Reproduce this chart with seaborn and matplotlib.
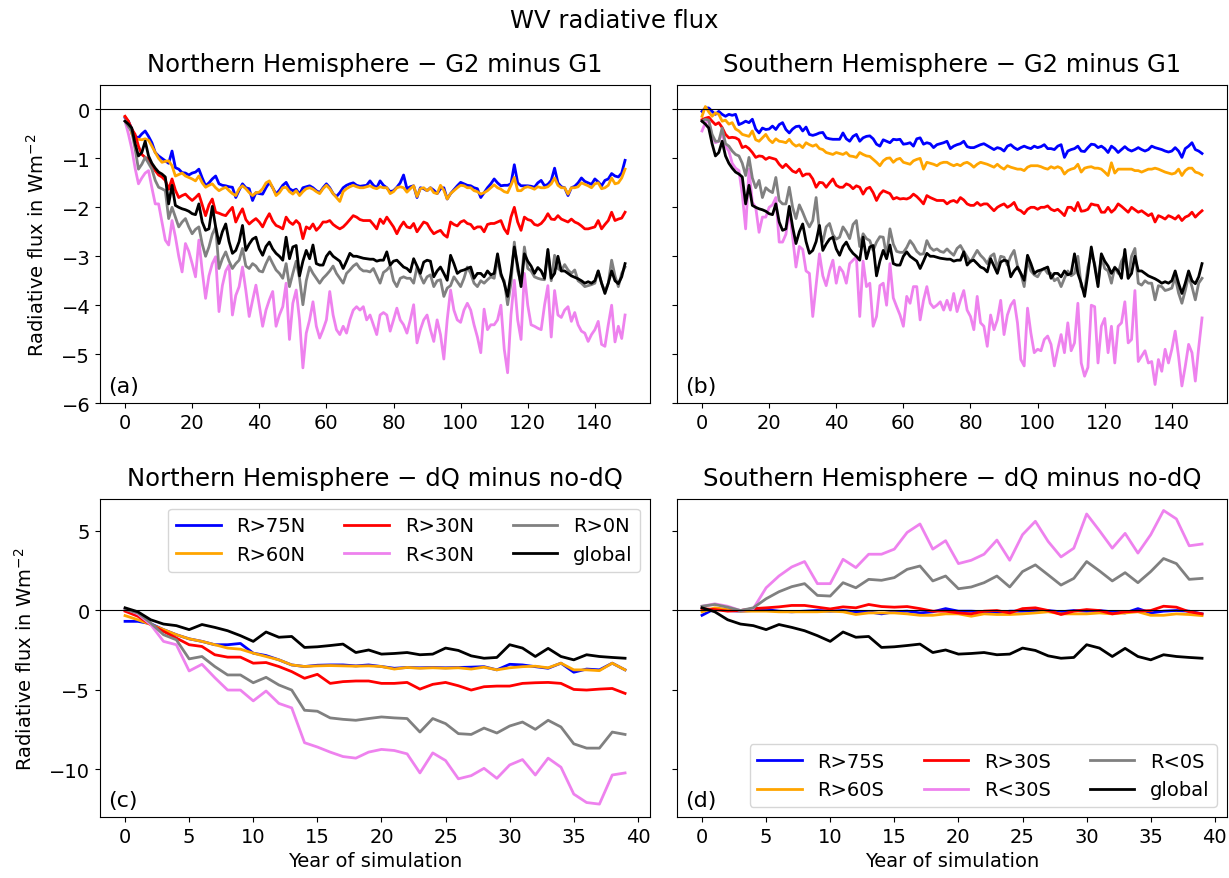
import numpy as np
import matplotlib
matplotlib.use("Agg")
import matplotlib.pyplot as plt
import seaborn as sns

# ---------------------------------------------------------------- data
years_g = np.arange(150)   # G2 minus G1 runs
years_dq = np.arange(40)   # dQ minus no-dQ runs

colors = ["blue", "orange", "red", "violet", "grey", "black"]
labels_n = ["R>75N", "R>60N", "R>30N", "R<30N", "R>0N", "global"]
labels_s = ["R>75S", "R>60S", "R>30S", "R<30S", "R<0S", "global"]

# global mean, G2 minus G1 (same curve in both hemispheres)
global_g = [
    -0.24, -0.30, -0.38, -0.70, -0.95, -0.88, -0.65, -0.95, -1.10, -1.20,
    -1.28, -1.32, -1.38, -1.93, -1.55, -1.96, -2.00, -2.03, -2.05, -2.08,
    -2.13, -2.15, -1.93, -2.30, -2.47, -2.44, -1.98, -2.40, -2.74, -2.50,
    -2.34, -2.70, -2.94, -2.88, -2.70, -2.37, -2.88, -2.75, -2.65, -2.61,
    -2.85, -2.98, -2.80, -2.71, -2.85, -2.94, -3.00, -3.08, -2.61, -3.05,
    -2.81, -2.78, -3.40, -3.10, -2.88, -3.05, -2.77, -3.15, -3.18, -3.18,
    -3.00, -2.91, -3.00, -3.05, -3.10, -3.25, -3.10, -2.94, -3.00, -3.00,
    -3.02, -3.04, -3.05, -3.06, -3.06, -3.10, -3.08, -3.08, -2.91, -3.18,
    -3.10, -3.08, -3.15, -3.22, -3.25, -3.32, -3.05, -3.20, -3.35, -3.12,
    -3.08, -3.10, -3.42, -3.30, -3.22, -3.35, -3.49, -2.98, -3.15, -3.35,
    -3.30, -3.28, -3.25, -3.22, -3.45, -3.35, -3.35, -3.42, -3.30, -3.38,
    -3.35, -2.95, -3.35, -3.55, -3.82, -3.35, -2.81, -3.20, -3.62, -2.95,
    -3.10, -3.20, -3.35, -3.23, -3.30, -3.45, -2.86, -3.45, -3.35, -3.00,
    -3.30, -3.30, -3.35, -3.40, -3.43, -3.46, -3.50, -3.55, -3.52, -3.55,
    -3.50, -3.30, -3.55, -3.76, -3.55, -3.30, -3.50, -3.56, -3.42, -3.15,
]

# Northern Hemisphere, G2 minus G1
r75n_g = [
    -0.17, -0.24, -0.40, -0.55, -0.58, -0.50, -0.44, -0.55, -0.68, -0.88,
    -0.95, -1.00, -1.05, -1.10, -0.85, -1.19, -1.22, -1.29, -1.30, -1.34,
    -1.30, -1.28, -1.22, -1.40, -1.56, -1.50, -1.42, -1.36, -1.52, -1.55,
    -1.56, -1.58, -1.59, -1.80, -1.65, -1.52, -1.60, -1.62, -1.86, -1.70,
    -1.72, -1.73, -1.60, -1.49, -1.60, -1.73, -1.65, -1.55, -1.49, -1.62,
    -1.66, -1.63, -1.73, -1.60, -1.58, -1.56, -1.60, -1.66, -1.70, -1.60,
    -1.52, -1.60, -1.72, -1.78, -1.70, -1.60, -1.55, -1.52, -1.50, -1.55,
    -1.57, -1.56, -1.55, -1.46, -1.55, -1.60, -1.46, -1.55, -1.60, -1.68,
    -1.66, -1.59, -1.50, -1.34, -1.62, -1.58, -1.56, -1.80, -1.60, -1.62,
    -1.66, -1.60, -1.65, -1.72, -1.62, -1.60, -1.83, -1.72, -1.64, -1.56,
    -1.49, -1.52, -1.55, -1.56, -1.60, -1.62, -1.80, -1.70, -1.60, -1.52,
    -1.42, -1.50, -1.56, -1.55, -1.55, -1.52, -1.13, -1.50, -1.56, -1.56,
    -1.56, -1.57, -1.59, -1.50, -1.45, -1.56, -1.53, -1.45, -1.20, -1.50,
    -1.58, -1.60, -1.76, -1.60, -1.57, -1.50, -1.40, -1.47, -1.50, -1.53,
    -1.42, -1.48, -1.56, -1.45, -1.42, -1.31, -1.36, -1.38, -1.30, -1.04,
]
r60n_g = [
    -0.15, -0.25, -0.50, -0.60, -0.61, -0.62, -0.60, -0.63, -0.75, -0.88,
    -1.00, -1.08, -1.06, -1.05, -1.15, -1.36, -1.33, -1.30, -1.36, -1.39,
    -1.42, -1.46, -1.36, -1.50, -1.59, -1.55, -1.52, -1.60, -1.66, -1.62,
    -1.59, -1.66, -1.72, -1.76, -1.62, -1.56, -1.62, -1.70, -1.76, -1.70,
    -1.69, -1.62, -1.50, -1.46, -1.60, -1.76, -1.70, -1.60, -1.59, -1.68,
    -1.73, -1.66, -1.76, -1.68, -1.62, -1.60, -1.63, -1.68, -1.72, -1.62,
    -1.55, -1.62, -1.72, -1.80, -1.88, -1.68, -1.62, -1.58, -1.55, -1.58,
    -1.60, -1.60, -1.58, -1.56, -1.60, -1.62, -1.58, -1.60, -1.60, -1.72,
    -1.68, -1.60, -1.58, -1.60, -1.69, -1.62, -1.56, -1.78, -1.62, -1.60,
    -1.66, -1.60, -1.70, -1.72, -1.55, -1.65, -1.83, -1.72, -1.66, -1.60,
    -1.55, -1.56, -1.60, -1.60, -1.66, -1.68, -1.73, -1.70, -1.66, -1.60,
    -1.54, -1.60, -1.63, -1.68, -1.70, -1.55, -1.39, -1.66, -1.66, -1.60,
    -1.58, -1.60, -1.63, -1.58, -1.60, -1.60, -1.58, -1.52, -1.40, -1.55,
    -1.60, -1.60, -1.73, -1.60, -1.60, -1.58, -1.50, -1.53, -1.56, -1.60,
    -1.52, -1.50, -1.62, -1.60, -1.55, -1.40, -1.52, -1.50, -1.40, -1.22,
]
r30n_g = [
    -0.14, -0.24, -0.40, -0.51, -0.75, -0.92, -0.98, -1.02, -1.15, -1.25,
    -1.34, -1.38, -1.45, -1.63, -1.42, -1.65, -1.80, -1.76, -1.73, -1.80,
    -1.86, -1.80, -1.73, -1.95, -2.17, -1.95, -1.83, -2.10, -2.12, -2.15,
    -2.17, -2.08, -2.00, -2.30, -2.15, -2.03, -2.25, -2.34, -2.28, -2.23,
    -2.30, -2.40, -2.25, -2.13, -2.28, -2.37, -2.40, -2.44, -2.20, -2.30,
    -2.35, -2.27, -2.34, -2.64, -2.40, -2.44, -2.34, -2.47, -2.40, -2.30,
    -2.30, -2.27, -2.35, -2.40, -2.44, -2.40, -2.33, -2.25, -2.17, -2.20,
    -2.25, -2.27, -2.27, -2.27, -2.35, -2.44, -2.24, -2.33, -2.20, -2.30,
    -2.40, -2.54, -2.40, -2.30, -2.40, -2.42, -2.33, -2.50, -2.40, -2.30,
    -2.33, -2.45, -2.54, -2.50, -2.47, -2.56, -2.61, -2.30, -2.35, -2.38,
    -2.30, -2.27, -2.33, -2.35, -2.44, -2.40, -2.40, -2.50, -2.35, -2.33,
    -2.33, -2.30, -2.27, -2.44, -2.54, -2.20, -2.00, -2.30, -2.47, -2.20,
    -2.25, -2.27, -2.35, -2.37, -2.33, -2.25, -2.13, -2.24, -2.25, -2.17,
    -2.24, -2.27, -2.30, -2.24, -2.30, -2.33, -2.38, -2.44, -2.44, -2.42,
    -2.40, -2.27, -2.44, -2.35, -2.27, -2.10, -2.27, -2.24, -2.22, -2.10,
]
rlt30n_g = [
    -0.24, -0.50, -0.80, -1.20, -1.52, -1.40, -1.30, -1.25, -1.60, -1.93,
    -1.93, -2.30, -2.67, -2.77, -2.27, -2.60, -3.00, -3.32, -2.74, -2.90,
    -3.15, -3.42, -2.67, -3.30, -3.86, -3.40, -3.15, -3.01, -4.13, -3.60,
    -3.30, -3.18, -4.20, -3.80, -3.62, -3.22, -3.70, -4.23, -3.90, -3.59,
    -4.00, -4.43, -4.10, -3.89, -3.72, -4.43, -4.20, -4.03, -3.55, -4.70,
    -3.96, -3.69, -4.30, -5.28, -4.57, -4.30, -3.93, -4.43, -4.67, -4.50,
    -4.30, -3.72, -4.20, -4.50, -4.60, -4.43, -4.57, -4.30, -4.10, -4.03,
    -4.10, -4.03, -4.30, -4.20, -4.40, -4.60, -4.20, -4.15, -4.20, -4.53,
    -4.30, -4.06, -4.30, -4.40, -4.57, -4.30, -3.99, -4.77, -4.50, -4.30,
    -4.20, -4.50, -4.74, -4.30, -4.60, -5.10, -4.30, -3.69, -4.10, -4.30,
    -4.35, -4.10, -3.96, -4.10, -4.40, -4.65, -4.97, -4.08, -4.50, -4.40,
    -4.40, -4.30, -4.00, -4.90, -5.38, -4.20, -3.49, -4.30, -4.70, -3.35,
    -4.00, -4.40, -4.43, -4.47, -4.50, -4.00, -3.60, -4.65, -3.70, -4.20,
    -4.25, -4.10, -4.03, -4.33, -4.15, -4.40, -4.53, -4.57, -4.74, -4.60,
    -4.50, -4.33, -4.80, -4.84, -4.40, -4.00, -4.75, -4.43, -4.68, -4.20,
]
r0n_g = [
    -0.24, -0.35, -0.45, -0.80, -1.22, -1.12, -0.98, -1.10, -1.22, -1.45,
    -1.59, -1.62, -1.66, -2.23, -2.00, -2.20, -2.40, -2.30, -2.23, -2.40,
    -2.54, -2.45, -2.40, -2.75, -3.00, -2.81, -2.55, -2.40, -3.25, -3.05,
    -2.91, -3.10, -3.25, -3.15, -3.08, -2.84, -3.20, -3.25, -3.15, -3.20,
    -3.30, -3.32, -3.15, -3.01, -3.15, -3.28, -3.35, -3.45, -3.15, -3.62,
    -3.35, -3.10, -3.45, -3.99, -3.50, -3.22, -3.35, -3.45, -3.55, -3.45,
    -3.38, -3.30, -3.20, -3.35, -3.45, -3.55, -3.35, -3.28, -3.20, -3.15,
    -3.25, -3.30, -3.30, -3.32, -3.25, -3.40, -3.55, -3.33, -3.28, -3.20,
    -3.50, -3.62, -3.45, -3.42, -3.45, -3.45, -3.55, -3.22, -3.40, -3.55,
    -3.42, -3.38, -3.62, -3.50, -3.48, -3.82, -3.65, -3.60, -3.42, -3.52,
    -3.62, -3.45, -3.22, -3.35, -3.55, -3.62, -3.50, -3.55, -3.48, -3.42,
    -3.45, -3.05, -3.40, -3.50, -3.99, -3.55, -2.71, -3.30, -3.55, -2.81,
    -3.25, -3.30, -3.42, -3.45, -3.47, -3.48, -2.91, -3.50, -2.98, -3.25,
    -3.30, -3.17, -3.28, -3.35, -3.28, -3.50, -3.55, -3.62, -3.60, -3.58,
    -3.55, -3.30, -3.55, -3.72, -3.55, -3.08, -3.40, -3.62, -3.35, -3.22,
]

# Southern Hemisphere, G2 minus G1
r75s_g = [
    -0.04, 0.03, 0.03, -0.04, -0.10, -0.04, -0.10, -0.14, -0.10, -0.12,
    -0.10, -0.31, -0.28, -0.24, -0.27, -0.20, -0.40, -0.48, -0.38, -0.41,
    -0.40, -0.34, -0.41, -0.31, -0.27, -0.41, -0.48, -0.40, -0.35, -0.34,
    -0.44, -0.36, -0.51, -0.53, -0.51, -0.48, -0.47, -0.58, -0.60, -0.61,
    -0.61, -0.61, -0.48, -0.60, -0.65, -0.55, -0.51, -0.65, -0.58, -0.55,
    -0.54, -0.60, -0.71, -0.75, -0.62, -0.65, -0.68, -0.61, -0.62, -0.61,
    -0.71, -0.70, -0.68, -0.75, -0.60, -0.58, -0.71, -0.68, -0.70, -0.78,
    -0.72, -0.70, -0.68, -0.65, -0.80, -0.75, -0.72, -0.70, -0.65, -0.76,
    -0.78, -0.78, -0.75, -0.72, -0.70, -0.74, -0.78, -0.82, -0.78, -0.80,
    -0.85, -0.75, -0.72, -0.78, -0.82, -0.78, -0.75, -0.78, -0.80, -0.75,
    -0.78, -0.76, -0.72, -0.80, -0.80, -0.82, -0.75, -0.72, -0.98, -0.85,
    -0.82, -0.80, -0.75, -0.85, -0.86, -0.78, -0.71, -0.72, -0.78, -0.75,
    -0.80, -0.88, -0.75, -0.80, -0.88, -0.82, -0.76, -0.82, -0.85, -0.82,
    -0.78, -0.82, -0.85, -0.82, -0.75, -0.78, -0.80, -0.82, -0.85, -0.87,
    -0.85, -0.78, -0.85, -0.98, -0.80, -0.75, -0.68, -0.82, -0.85, -0.90,
]
r60s_g = [
    -0.14, 0.06, -0.05, -0.14, -0.07, -0.10, -0.24, -0.22, -0.30, -0.27,
    -0.40, -0.44, -0.51, -0.53, -0.55, -0.44, -0.62, -0.65, -0.58, -0.51,
    -0.62, -0.68, -0.60, -0.65, -0.66, -0.68, -0.61, -0.70, -0.75, -0.72,
    -0.78, -0.68, -0.72, -0.75, -0.72, -0.80, -0.82, -0.88, -0.90, -0.92,
    -0.88, -0.90, -0.92, -0.88, -0.95, -0.96, -0.98, -0.88, -0.92, -0.95,
    -0.96, -1.02, -1.08, -1.15, -1.05, -1.00, -0.99, -1.08, -1.02, -1.00,
    -1.08, -1.10, -1.12, -1.05, -1.02, -1.00, -1.22, -1.08, -1.10, -1.12,
    -1.15, -1.10, -1.08, -1.08, -1.12, -1.15, -1.12, -1.15, -1.10, -1.08,
    -1.12, -1.18, -1.12, -1.08, -1.10, -1.12, -1.15, -1.18, -1.12, -1.18,
    -1.22, -1.15, -1.18, -1.20, -1.22, -1.22, -1.25, -1.18, -1.15, -1.15,
    -1.15, -1.17, -1.20, -1.22, -1.17, -1.20, -1.17, -1.20, -1.32, -1.25,
    -1.22, -1.20, -1.12, -1.28, -1.20, -1.18, -1.17, -1.20, -1.20, -1.22,
    -1.28, -1.35, -1.09, -1.30, -1.22, -1.22, -1.22, -1.22, -1.22, -1.25,
    -1.25, -1.28, -1.25, -1.22, -1.22, -1.20, -1.22, -1.25, -1.28, -1.30,
    -1.32, -1.30, -1.22, -1.35, -1.25, -1.20, -1.20, -1.28, -1.30, -1.34,
]
r30s_g = [
    -0.21, -0.18, -0.16, -0.24, -0.31, -0.27, -0.37, -0.51, -0.58, -0.57,
    -0.58, -0.62, -0.78, -0.75, -0.80, -0.88, -0.98, -0.95, -0.96, -1.02,
    -0.98, -1.00, -1.02, -1.12, -1.19, -1.12, -1.19, -1.26, -1.29, -1.22,
    -1.36, -1.32, -1.32, -1.42, -1.59, -1.49, -1.50, -1.59, -1.50, -1.42,
    -1.55, -1.59, -1.59, -1.52, -1.55, -1.62, -1.56, -1.59, -1.73, -1.62,
    -1.59, -1.70, -1.86, -1.73, -1.66, -1.69, -1.72, -1.83, -1.80, -1.83,
    -1.82, -1.83, -1.80, -1.73, -1.78, -1.85, -1.93, -1.76, -1.80, -1.83,
    -1.86, -1.86, -1.86, -1.93, -1.88, -1.86, -1.90, -1.80, -1.85, -1.93,
    -1.96, -1.96, -1.90, -1.96, -1.93, -1.93, -2.00, -2.07, -2.00, -1.96,
    -1.93, -2.00, -1.96, -1.90, -2.04, -2.07, -2.13, -2.04, -2.00, -2.00,
    -2.04, -2.00, -2.00, -1.97, -2.04, -2.07, -2.04, -2.10, -2.17, -2.00,
    -2.00, -2.07, -1.90, -2.08, -2.07, -2.04, -1.93, -1.95, -1.96, -2.10,
    -2.10, -2.00, -2.10, -2.04, -1.93, -1.98, -2.04, -2.10, -2.00, -2.05,
    -2.10, -2.07, -2.12, -2.17, -2.13, -2.30, -2.17, -2.20, -2.24, -2.17,
    -2.20, -2.24, -2.17, -2.27, -2.20, -2.17, -2.10, -2.20, -2.13, -2.07,
]
rlt30s_g = [
    -0.44, -0.27, -0.24, -0.55, -0.68, -0.65, -0.48, -0.75, -0.85, -1.10,
    -1.20, -1.25, -1.73, -2.44, -1.22, -1.90, -2.00, -2.51, -2.20, -2.20,
    -2.00, -1.95, -1.80, -2.71, -2.71, -2.55, -2.05, -2.60, -3.22, -2.80,
    -2.86, -3.30, -3.35, -4.23, -3.60, -2.95, -3.40, -3.60, -3.30, -3.08,
    -3.55, -3.22, -3.32, -3.55, -3.15, -3.08, -3.01, -4.23, -3.10, -3.62,
    -3.55, -4.43, -4.23, -3.60, -3.55, -4.00, -3.15, -3.85, -4.03, -4.20,
    -4.43, -3.82, -3.96, -3.62, -3.62, -4.30, -3.90, -3.62, -3.96, -4.05,
    -4.00, -3.93, -4.10, -3.90, -4.10, -3.76, -4.13, -3.90, -3.70, -4.10,
    -4.23, -4.50, -3.82, -4.36, -4.43, -4.84, -4.20, -4.50, -4.30, -3.90,
    -4.60, -4.20, -4.00, -3.90, -4.36, -5.11, -5.24, -4.06, -4.57, -4.97,
    -4.90, -4.93, -4.70, -4.63, -4.80, -5.24, -4.90, -4.60, -4.97, -4.36,
    -4.93, -4.77, -3.96, -5.18, -5.45, -5.27, -4.00, -4.03, -5.18, -4.43,
    -4.27, -4.97, -4.43, -5.18, -4.43, -4.36, -3.93, -4.77, -4.70, -3.70,
    -5.15, -5.04, -4.93, -5.18, -5.15, -5.62, -5.11, -5.35, -4.90, -5.18,
    -4.90, -4.53, -5.04, -5.65, -5.25, -4.80, -4.97, -5.55, -4.87, -4.26,
]
rlt0s_g = [
    -0.24, -0.20, -0.22, -0.51, -0.65, -0.65, -0.38, -0.70, -0.75, -0.85,
    -0.92, -0.95, -1.10, -1.35, -0.98, -1.40, -1.60, -1.45, -1.80, -1.60,
    -1.66, -1.70, -1.39, -1.86, -1.93, -1.93, -1.59, -2.00, -2.23, -1.95,
    -2.10, -2.27, -2.40, -2.27, -1.80, -2.50, -2.70, -2.40, -2.33, -2.56,
    -2.65, -2.61, -2.40, -2.50, -2.64, -2.35, -2.27, -2.80, -2.54, -2.64,
    -2.68, -2.88, -2.71, -2.60, -2.61, -3.00, -2.44, -2.75, -2.90, -2.92,
    -2.92, -2.82, -2.68, -2.77, -2.90, -2.96, -2.95, -2.68, -2.82, -2.88,
    -2.85, -2.90, -2.92, -2.85, -2.92, -2.98, -2.84, -2.78, -2.90, -3.01,
    -3.12, -3.00, -2.88, -2.98, -3.05, -3.15, -3.00, -2.95, -3.25, -3.00,
    -3.02, -3.18, -3.00, -2.88, -3.20, -3.35, -3.62, -3.08, -3.30, -3.38,
    -3.42, -3.30, -3.25, -3.35, -3.35, -3.50, -3.45, -3.62, -3.45, -3.30,
    -3.40, -3.35, -3.00, -3.62, -3.72, -3.22, -2.95, -3.15, -3.55, -3.00,
    -3.25, -3.30, -3.55, -3.22, -3.35, -3.10, -2.98, -3.45, -3.00, -2.84,
    -3.55, -3.59, -3.50, -3.55, -3.55, -3.89, -3.60, -3.62, -3.70, -3.68,
    -3.65, -3.42, -3.75, -3.96, -3.70, -3.40, -3.62, -3.89, -3.55, -3.45,
]

# global mean, dQ minus no-dQ (same curve in both hemispheres)
global_dq = [
    0.15, -0.10, -0.60, -0.87, -0.97, -1.22, -0.90, -1.08, -1.29, -1.60,
    -1.96, -1.37, -1.70, -1.65, -2.34, -2.30, -2.22, -2.13, -2.66, -2.50,
    -2.76, -2.72, -2.66, -2.80, -2.76, -2.38, -2.53, -2.87, -3.02, -2.97,
    -2.17, -2.38, -2.91, -2.40, -2.91, -3.12, -2.80, -2.91, -2.97, -3.02,
]

# Northern Hemisphere, dQ minus no-dQ
r75n_dq = [
    -0.70, -0.70, -0.85, -1.22, -1.54, -1.80, -1.96, -2.17, -2.17, -2.09,
    -2.70, -2.85, -3.12, -3.44, -3.54, -3.46, -3.44, -3.44, -3.50, -3.44,
    -3.54, -3.65, -3.60, -3.62, -3.60, -3.62, -3.60, -3.58, -3.55, -3.75,
    -3.40, -3.44, -3.55, -3.65, -3.33, -3.90, -3.70, -3.75, -3.33, -3.75,
]
r60n_dq = [
    -0.34, -0.60, -0.90, -1.22, -1.54, -1.80, -1.96, -2.17, -2.38, -2.45,
    -2.70, -2.91, -3.12, -3.44, -3.54, -3.50, -3.48, -3.50, -3.52, -3.50,
    -3.54, -3.70, -3.60, -3.65, -3.62, -3.65, -3.62, -3.70, -3.58, -3.75,
    -3.62, -3.55, -3.52, -3.62, -3.33, -3.75, -3.75, -3.80, -3.33, -3.75,
]
r30n_dq = [
    -0.06, -0.38, -0.90, -1.33, -1.75, -2.17, -2.28, -2.80, -2.95, -2.95,
    -3.33, -3.29, -3.54, -3.86, -4.28, -4.03, -4.60, -4.49, -4.45, -4.45,
    -4.60, -4.60, -4.54, -4.96, -4.66, -4.54, -4.75, -5.02, -4.81, -4.77,
    -4.77, -4.60, -4.56, -4.54, -4.60, -4.98, -5.02, -4.96, -4.92, -5.23,
]
rlt30n_dq = [
    0.10, -0.23, -0.90, -1.96, -2.17, -3.82, -3.40, -4.24, -5.02, -5.02,
    -5.70, -5.08, -5.86, -6.14, -8.33, -8.60, -8.92, -9.20, -9.30, -8.92,
    -8.75, -8.82, -9.03, -10.23, -8.97, -9.45, -10.60, -10.40, -9.94, -10.57,
    -9.73, -9.39, -10.36, -9.30, -9.87, -11.56, -12.09, -12.19, -10.36, -10.23,
]
r0n_dq = [
    0.04, -0.17, -0.80, -1.54, -1.86, -3.06, -2.91, -3.54, -4.07, -4.07,
    -4.56, -4.22, -4.70, -5.02, -6.29, -6.35, -6.77, -6.86, -6.92, -6.81,
    -6.71, -6.77, -6.81, -7.66, -6.81, -7.13, -7.76, -7.81, -7.41, -7.72,
    -7.28, -7.03, -7.49, -6.92, -7.34, -8.40, -8.67, -8.67, -7.66, -7.81,
]

# Southern Hemisphere, dQ minus no-dQ
r75s_dq = [
    -0.32, 0.10, -0.02, -0.06, -0.02, 0.04, -0.06, -0.10, -0.06, -0.02,
    -0.06, -0.02, -0.10, -0.10, -0.23, -0.10, -0.06, -0.17, -0.10, 0.10,
    -0.06, -0.06, -0.10, -0.17, -0.06, -0.06, -0.02, -0.02, -0.10, -0.02,
    -0.06, -0.02, -0.10, -0.17, 0.10, -0.17, -0.06, -0.02, -0.06, -0.23,
]
r60s_dq = [
    -0.10, 0.15, 0.04, -0.06, -0.06, -0.06, -0.10, -0.10, -0.10, -0.10,
    -0.06, -0.10, -0.27, -0.17, -0.17, -0.17, -0.23, -0.32, -0.32, -0.23,
    -0.23, -0.38, -0.23, -0.27, -0.27, -0.23, -0.17, -0.10, -0.23, -0.23,
    -0.23, -0.17, -0.23, -0.17, -0.10, -0.32, -0.32, -0.23, -0.27, -0.34,
]
r30s_dq = [
    0.10, 0.04, -0.06, -0.02, 0.10, 0.15, 0.21, 0.30, 0.30, 0.19,
    0.08, 0.21, 0.15, 0.36, 0.23, 0.19, 0.23, 0.10, -0.06, -0.06,
    -0.17, -0.23, -0.06, -0.02, -0.17, 0.10, 0.15, -0.02, -0.27, -0.06,
    0.04, -0.02, -0.23, -0.10, -0.06, -0.02, 0.25, 0.19, -0.10, -0.23,
]
rlt30s_dq = [
    0.25, 0.40, 0.25, -0.02, 0.10, 1.41, 2.15, 2.72, 3.06, 1.67,
    1.67, 3.20, 2.68, 3.52, 3.52, 3.84, 4.89, 5.42, 3.84, 4.37,
    2.93, 3.14, 3.52, 4.41, 3.14, 4.75, 5.59, 4.32, 3.35, 3.90,
    6.05, 5.00, 3.90, 4.83, 3.59, 4.75, 6.27, 5.74, 4.05, 4.16,
]
rlt0s_dq = [
    0.25, 0.36, 0.19, -0.02, 0.15, 0.72, 1.16, 1.48, 1.67, 0.93,
    0.89, 1.73, 1.41, 1.94, 1.88, 2.05, 2.57, 2.78, 1.84, 2.15,
    1.35, 1.46, 1.73, 2.15, 1.46, 2.43, 2.85, 2.22, 1.58, 2.00,
    3.06, 2.47, 1.84, 2.36, 1.73, 2.43, 3.25, 2.93, 1.94, 2.00,
]

# ---------------------------------------------------------------- figure
fig, axes = plt.subplots(2, 2, figsize=(12.29, 8.79), dpi=100, sharey="row")
fig.subplots_adjust(left=0.0814, right=0.9984, bottom=0.0694, top=0.9022,
                    wspace=0.049, hspace=0.301)

TICK_FS = 14
TITLE_FS = 17.5
LINE_W = 2.0


def draw_panel(ax, x, series, labels):
    for y, c, lab in zip(series, colors, labels):
        sns.lineplot(x=x, y=np.asarray(y), color=c, label=lab, lw=LINE_W,
                     ax=ax, legend=False)
    ax.axhline(0, color="black", lw=0.8)
    ax.tick_params(labelsize=TICK_FS)


panels = [
    (axes[0, 0], years_g, [r75n_g, r60n_g, r30n_g, rlt30n_g, r0n_g, global_g],
     labels_n, "Northern Hemisphere \u2212 G2 minus G1", "(a)"),
    (axes[0, 1], years_g, [r75s_g, r60s_g, r30s_g, rlt30s_g, rlt0s_g, global_g],
     labels_s, "Southern Hemisphere \u2212 G2 minus G1", "(b)"),
    (axes[1, 0], years_dq, [r75n_dq, r60n_dq, r30n_dq, rlt30n_dq, r0n_dq, global_dq],
     labels_n, "Northern Hemisphere \u2212 dQ minus no-dQ", "(c)"),
    (axes[1, 1], years_dq, [r75s_dq, r60s_dq, r30s_dq, rlt30s_dq, rlt0s_dq, global_dq],
     labels_s, "Southern Hemisphere \u2212 dQ minus no-dQ", "(d)"),
]

for ax, x, series, labels, title, tag in panels:
    draw_panel(ax, x, series, labels)
    ax.set_title(title, fontsize=TITLE_FS, pad=10)
    ax.text(0.015, 0.022, tag, transform=ax.transAxes, fontsize=16,
            ha="left", va="bottom")
    ax.set_xlabel("")
    ax.set_ylabel("")

for ax in axes[0]:
    ax.set_xticks(np.arange(0, 141, 20))
    ax.set_ylim(-6.0, 0.5)
    ax.set_yticks(np.arange(-6, 1, 1))
for ax in axes[1]:
    ax.set_xticks(np.arange(0, 41, 5))
    ax.set_ylim(-13.0, 7.0)
    ax.set_yticks([-10, -5, 0, 5])
    ax.set_xlabel("Year of simulation", fontsize=TICK_FS)

for ax in axes[:, 0]:
    ax.set_ylabel("Radiative flux in Wm$^{-2}$", fontsize=TICK_FS, labelpad=10)

legend_kw = dict(ncol=3, fontsize=TICK_FS, handlelength=2.3)
axes[1, 0].legend(loc="upper right", **legend_kw)
axes[1, 1].legend(loc="lower right", **legend_kw)

fig.suptitle("WV radiative flux", fontsize=TITLE_FS, y=0.99)

fig.savefig("out.png", dpi=100)
